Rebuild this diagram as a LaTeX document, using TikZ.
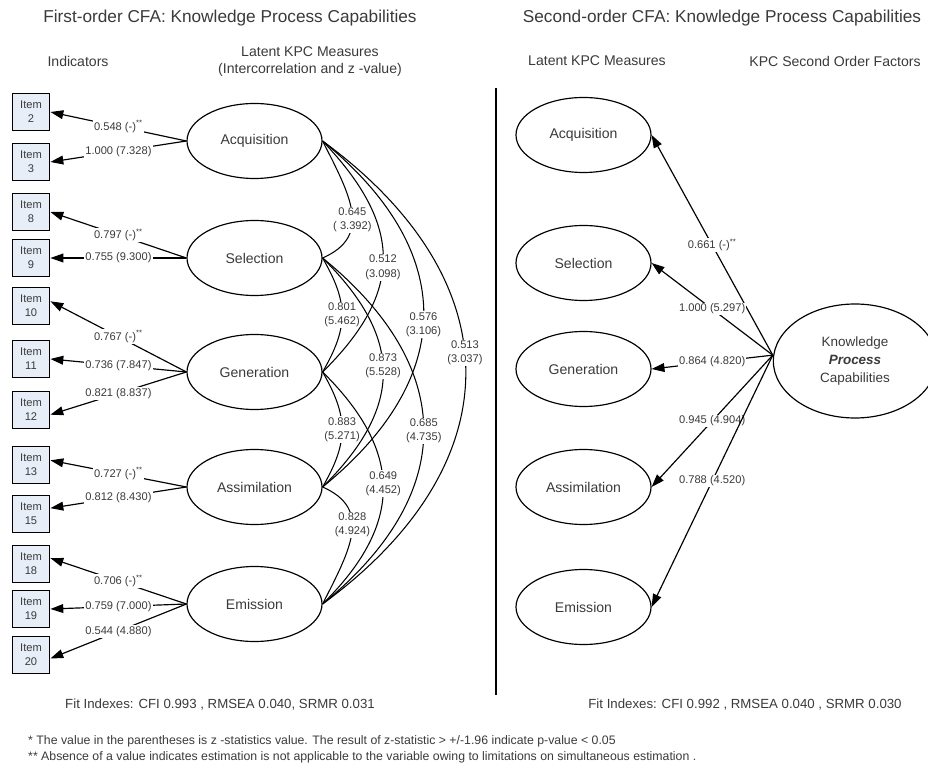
\documentclass[tikz,border=0pt]{standalone}
\usepackage{fontspec}
\setmainfont{Liberation Sans}
\usetikzlibrary{shapes.geometric,arrows.meta}

\definecolor{itemfill}{HTML}{E8EEF8}
\definecolor{txt}{HTML}{3A3A3A}

\begin{document}
\begin{tikzpicture}[x=0.03cm, y=-0.03cm,
  every node/.style={text=txt},
  item/.style={draw=black, line width=1pt, fill=itemfill, minimum width=1.13cm, minimum height=1.11cm,
    inner sep=0pt, align=center, font=\fontsize{9.5}{12}\selectfont},
  latent/.style={draw=black, line width=1pt, ellipse, minimum width=4.05cm, minimum height=2.25cm,
    inner sep=0pt, font=\fontsize{12}{14}\selectfont},
  load/.style={line width=1pt, -{Triangle[length=11pt,width=7.5pt]}},
  coef/.style={fill=white, inner sep=1pt, align=center, font=\fontsize{9.5}{12}\selectfont},
  cov/.style={line width=0.9pt},
  head/.style={align=center, font=\fontsize{12}{14.5}\selectfont},
  title/.style={font=\fontsize{14.7}{17}\selectfont}]

  \useasboundingbox (0,0) rectangle (928,769);

  % Headings
  \node[title] (ttl1) at (230,18) {First-order CFA: Knowledge Process Capabilities};
  \node[title] (ttl2) at (722,18) {Second-order CFA: Knowledge Process Capabilities};
  \node[head] (hind) at (78,61) {Indicators};
  \node[head] (hlat1) at (310,62) {Latent KPC Measures\\(Intercorrelation and z -value)};
  \node[head] (hlat2) at (597,61) {Latent KPC Measures};
  \node[head] (hsec) at (835,61) {KPC Second Order Factors};

  % Divider between the two models
  \draw[line width=2.5pt] (496,88) -- (496,695);

  % Indicators
  \node[item] (it2) at (31,112) {Item\\2};
  \node[item] (it3) at (31,162) {Item\\3};
  \node[item] (it8) at (31,212) {Item\\8};
  \node[item] (it9) at (31,258) {Item\\9};
  \node[item] (it10) at (31,306) {Item\\10};
  \node[item] (it11) at (31,359) {Item\\11};
  \node[item] (it12) at (31,410) {Item\\12};
  \node[item] (it13) at (31,465) {Item\\13};
  \node[item] (it15) at (31,514) {Item\\15};
  \node[item] (it18) at (31,564) {Item\\18};
  \node[item] (it19) at (31,609) {Item\\19};
  \node[item] (it20) at (31,655) {Item\\20};

  % First-order latent measures
  \node[latent] (acq1) at (254.5,141) {Acquisition};
  \node[latent] (sel1) at (254.5,258) {Selection};
  \node[latent] (gen1) at (254.5,372) {Generation};
  \node[latent] (asm1) at (254.5,487) {Assimilation};
  \node[latent] (emi1) at (254.5,604) {Emission};

  % Loadings on the indicators
  \draw[load] (acq1.west) -- node[coef] {0.548 (-)\textsuperscript{**}} (it2.east);
  \draw[load] (acq1.west) -- node[coef] {1.000 (7.328)} (it3.east);
  \draw[load] (sel1.west) -- node[coef] {0.797 (-)\textsuperscript{**}} (it8.east);
  \draw[load] (sel1.west) -- node[coef] {0.755 (9.300)} (it9.east);
  \draw[load] (gen1.west) -- node[coef] {0.767 (-)\textsuperscript{**}} ([yshift=4pt]it10.east);
  \draw[load] (gen1.west) -- node[coef] {0.736 (7.847)} (it11.east);
  \draw[load] (gen1.west) -- node[coef] {0.821 (8.837)} ([yshift=-4pt]it12.east);
  \draw[load] (asm1.west) -- node[coef] {0.727 (-)\textsuperscript{**}} ([yshift=4pt]it13.east);
  \draw[load] (asm1.west) -- node[coef] {0.812 (8.430)} ([yshift=5pt]it15.east);
  \draw[load] (emi1.west) -- node[coef] {0.706 (-)\textsuperscript{**}} ([yshift=5pt]it18.east);
  \draw[load] (emi1.west) -- node[coef] {0.759 (7.000)} (it19.east);
  \draw[load] (emi1.west) -- node[coef] {0.544 (4.880)} ([yshift=-3pt]it20.east);

  % Intercorrelations, outermost last
  \draw[cov] (acq1.east) .. controls +(28,55) and +(50,-22) .. node[coef,pos=0.57] {0.645\\( 3.392)} (sel1.east);
  \draw[cov] (sel1.east) .. controls +(26,45) and +(26,-45) .. node[coef] {0.801\\(5.462)} (gen1.east);
  \draw[cov] (gen1.east) .. controls +(26,45) and +(26,-45) .. node[coef] {0.883\\(5.271)} (asm1.east);
  \draw[cov] (asm1.east) .. controls +(50,22) and +(28,-55) .. node[coef,pos=0.43] {0.828\\(4.924)} (emi1.east);
  \draw[cov] (acq1.east) .. controls +(81,85) and +(81,-80) .. node[coef,pos=0.54] {0.512\\(3.098)} (gen1.east);
  \draw[cov] (sel1.east) .. controls +(81,80) and +(81,-80) .. node[coef,pos=0.47] {0.873\\(5.528)} (asm1.east);
  \draw[cov] (gen1.east) .. controls +(81,80) and +(81,-80) .. node[coef,pos=0.48] {0.649\\(4.452)} (emi1.east);
  \draw[cov] (acq1.east) .. controls +(135,110) and +(135,-110) .. node[coef,pos=0.53] {0.576\\(3.106)} (asm1.east);
  \draw[cov] (sel1.east) .. controls +(135,110) and +(135,-110) .. node[coef] {0.685\\(4.735)} (emi1.east);
  \draw[cov] (acq1.east) .. controls +(191,140) and +(191,-140) .. node[coef,pos=0.46] {0.513\\(3.037)} (emi1.east);

  % Second-order model
  \node[latent] (acq2) at (583.5,135) {Acquisition};
  \node[latent] (sel2) at (583.5,263) {Selection};
  \node[latent] (gen2) at (583.5,369) {Generation};
  \node[latent] (asm2) at (583.5,487) {Assimilation};
  \node[latent] (emi2) at (583.5,607) {Emission};
  \node[latent, minimum width=4.9cm, minimum height=3.42cm, align=center,
    font=\fontsize{11.5}{15}\selectfont] (kpc) at (855,361)
    {Knowledge\\\textbf{\textit{Process}}\\Capabilities};

  \coordinate (hub) at ([yshift=5pt]kpc.west);
  \draw[load] (hub) -- node[coef] {0.661 (-)\textsuperscript{**}} (acq2.east);
  \draw[load] (hub) -- node[coef] {1.000 (5.297)} (sel2.east);
  \draw[load] (hub) -- node[coef] {0.864 (4.820)} (gen2.east);
  \draw[load] (hub) -- node[coef] {0.945 (4.904)} (asm2.east);
  \draw[load] (hub) -- node[coef] {0.788 (4.520)} (emi2.east);

  % Fit statistics and notes
  \node[font=\fontsize{11.3}{13}\selectfont] (fit1) at (220,705) {Fit Indexes: CFI 0.993 , RMSEA 0.040, SRMR 0.031};
  \node[font=\fontsize{11.3}{13}\selectfont] (fit2) at (745,705) {Fit Indexes: CFI 0.992 , RMSEA 0.040 , SRMR 0.030};
  \node[anchor=west, inner sep=0pt, font=\fontsize{10.5}{12}\selectfont] (note1) at (28,741)
    {* The value in the parentheses is z -statistics value. The result of z-statistic > +/-1.96 indicate p-value < 0.05};
  \node[anchor=west, inner sep=0pt, font=\fontsize{10.5}{12}\selectfont] (note2) at (28,757)
    {** Absence of a value indicates estimation is not applicable to the variable owing to limitations on simultaneous estimation .};
\end{tikzpicture}
\end{document}
